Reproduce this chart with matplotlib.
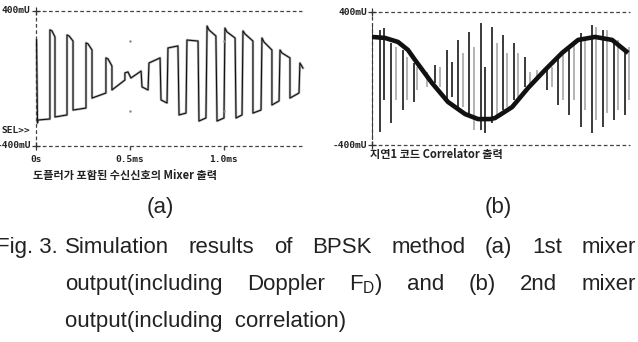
import matplotlib
matplotlib.use("Agg")
import matplotlib.pyplot as plt

# (a) 1st mixer output: breakpoints of the trace, time in ms, level in mV
mix_t = [0.003, 0.008, 0.011, 0.074, 0.074, 0.085, 0.101, 0.101, 0.165, 0.165,
         0.176, 0.197, 0.197, 0.266, 0.266, 0.277, 0.298, 0.298, 0.372, 0.372,
         0.383, 0.404, 0.404, 0.473, 0.473, 0.489, 0.505, 0.559, 0.564, 0.596,
         0.601, 0.660, 0.665, 0.697, 0.702, 0.755, 0.761, 0.798, 0.803, 0.862,
         0.867, 0.904, 0.910, 0.920, 0.957, 0.963, 1.000, 1.005, 1.016, 1.059,
         1.064, 1.096, 1.101, 1.112, 1.154, 1.154, 1.197, 1.202, 1.213, 1.255,
         1.255, 1.293, 1.298, 1.309, 1.351, 1.351, 1.399, 1.404, 1.420]
mix_v = [228, -264, -246, -240, 288, 282, 246, -228, -216, 258,
         252, 222, -187, -175, 211, 205, 169, -116, -86, 122,
         116, 74, -68, -9, 33, 39, 3, 44, -50, -68,
         92, 122, -127, -145, 181, 193, -216, -205, 228, 222,
         -252, -234, 311, 288, 252, -252, -234, 299, 276, 240,
         -234, -216, 282, 264, 222, -205, -187, 240, 216, 169,
         -157, -133, 169, 151, 122, -116, -86, 92, 62]

# (b) correlator output: slow sine component
cor_t = [0.0, 0.069, 0.138, 0.191, 0.229, 0.319, 0.404, 0.495, 0.564, 0.628,
         0.654, 0.745, 0.830, 0.920, 1.011, 1.096, 1.186, 1.277, 1.362]
cor_v = [250, 244, 220, 172, 111, -27, -141, -214, -244, -244,
         -238, -172, -57, 51, 154, 232, 250, 232, 154]

# (b) spikes: position, top, bottom (mV), shade (1 = dark, 0 = grey)
spk_t = [0.000, 0.043, 0.064, 0.099, 0.128, 0.163, 0.188, 0.223, 0.241, 0.291,
         0.335, 0.362, 0.397, 0.424, 0.459, 0.486, 0.518, 0.543, 0.578, 0.601,
         0.637, 0.663, 0.695, 0.720, 0.755, 0.778, 0.814, 0.840, 0.876, 0.933,
         0.956, 0.991, 1.015, 1.050, 1.074, 1.110, 1.133, 1.168, 1.191, 1.227,
         1.252, 1.287, 1.310, 1.346, 1.369]
spk_top = [322, 292, 302, 212, 191, 172, 131, 91, 71, 41,
           81, 71, 172, 101, 232, 152, 282, 191, 332, 71,
           312, 212, 262, 152, 212, 152, 131, 41, 51, 61,
           71, 121, 172, 191, 212, 272, 252, 322, 312, 292,
           292, 232, 232, 182, 191]
spk_bot = [-370, -320, -129, -270, -129, -190, -129, -140, -69, -49,
           -29, -49, -129, -109, -190, -170, -230, -310, -310, -330,
           -270, -230, -190, -170, -129, -109, -49, -49, 11, -69,
           -49, -160, -129, -220, -129, -290, -190, -330, -250, -290,
           -210, -250, -190, -220, -129]
spk_dark = [1, 1, 1, 1, 0, 1, 0, 1, 0, 0,
            1, 0, 1, 1, 1, 0, 1, 0, 1, 1,
            1, 0, 1, 0, 1, 0, 1, 0, 0, 1,
            0, 1, 0, 1, 0, 1, 0, 1, 0, 1,
            0, 1, 0, 1, 0]

x_ticks = [0.0, 0.5, 1.0]
x_labels = ["0s", "0.5ms", "1.0ms"]

W, H = 638, 342
fig = plt.figure(figsize=(W / 100, H / 100), dpi=100)
fig.patch.set_facecolor("white")

mono = dict(family="DejaVu Sans Mono", weight="bold", size=6.8, color="#222")
kor = dict(family=["Noto Sans CJK KR", "DejaVu Sans"], weight="bold", size=8.0, color="#222")
cap = dict(family=["Liberation Sans", "DejaVu Sans"], size=16, color="#222")
plt.rcParams["mathtext.fontset"] = "custom"
plt.rcParams["mathtext.rm"] = "Liberation Sans"


def px_axes(x0, y0, x1, y1):
    return fig.add_axes([x0 / W, 1 - y1 / H, (x1 - x0) / W, (y1 - y0) / H])


def frame(ax, xmax):
    dash = (0, (3, 2))
    for yv in (-400, 400):
        ax.plot([0, xmax], [yv, yv], ls=dash, lw=0.9, color="#444", clip_on=False)
    ax.plot([0, 0], [-400, 400], ls=dash, lw=0.9, color="#444", clip_on=False)
    ax.plot([0, 0], [-400, 400], ls="none", marker="+", ms=6, mew=0.9,
            color="#333", clip_on=False)
    ax.set_xlim(0, xmax)
    ax.set_ylim(-400, 400)
    ax.axis("off")


# ---- (a)
ax1 = px_axes(36, 11, 302, 146)
frame(ax1, 1.415)
ax1.plot(mix_t, mix_v, color="#666", lw=1.8, alpha=0.5, clip_on=False)
ax1.plot(mix_t, mix_v, color="#111", lw=0.8, clip_on=False)
ax1.plot(x_ticks[1:], [-400] * 2, ls="none", marker=3, ms=3, color="#444", clip_on=False)
ax1.plot([0.5, 0.5, 1.0, 1.0], [220, -190, 220, -190], ls="none", marker=".", ms=1.5,
         color="#888")
t_y = ax1.get_yaxis_transform()
ax1.text(-0.02, 400, "400mU", ha="right", va="center", transform=t_y, **mono)
ax1.text(-0.02, -400, "-400mU", ha="right", va="center", transform=t_y, **mono)
ax1.text(-0.02, -311, "SEL>>", ha="right", va="center", transform=t_y, **mono)
t_x = ax1.get_xaxis_transform()
for xv, lab in zip(x_ticks, x_labels):
    ax1.text(xv, -0.1, lab, ha="center", va="center", transform=t_x, **mono)
ax1.text(-0.016, -0.215, "도플러가 포함된 수신신호의 Mixer 출력", ha="left", va="center",
         transform=t_x, **kor)

# ---- (b)
ax2 = px_axes(372, 12, 630, 145)
frame(ax2, 1.372)
for t, a, b, d in zip(spk_t, spk_top, spk_bot, spk_dark):
    ax2.vlines(t, b, a, color="#3a3a3a" if d else "#a8a8a8", lw=1.4 if d else 1.2)
ax2.plot(cor_t, cor_v, color="#111", lw=3.3, solid_capstyle="butt")
t_y2 = ax2.get_yaxis_transform()
ax2.text(-0.02, 400, "400mU", ha="right", va="center", transform=t_y2, **mono)
ax2.text(-0.02, -400, "-400mU", ha="right", va="center", transform=t_y2, **mono)
ax2.text(-0.008, -0.075, "지연1 코드 Correlator 출력", ha="left", va="center",
         transform=ax2.transAxes, **kor)

# ---- captions (y given as baseline, in pixels from the top)
fig.text(160 / W, 1 - 213 / H, "(a)", ha="center", va="baseline", **cap)
fig.text(498 / W, 1 - 213 / H, "(b)", ha="center", va="baseline", **cap)


def justify(words, x0, x1, y):
    texts = [fig.text(0, 1 - y / H, w, ha="left", va="baseline", **cap) for w in words]
    fig.canvas.draw()
    r = fig.canvas.get_renderer()
    widths = [t.get_window_extent(r).width for t in texts]
    gap = (x1 - x0 - sum(widths)) / (len(words) - 1)
    x = x0
    for t, w in zip(texts, widths):
        t.set_x(x / W)
        x += w + gap


fig.text(-4 / W, 1 - 253 / H, "Fig. 3.", ha="left", va="baseline", **cap)
justify(["Simulation", "results", "of", "BPSK", "method", "(a)", "1st", "mixer"],
        65, 636, 253)
justify(["output(including", "Doppler", "F$_{\\rm D}$)", "and", "(b)", "2nd", "mixer"],
        65, 636, 290)
fig.text(65 / W, 1 - 327 / H, "output(including  correlation)", ha="left", va="baseline", **cap)

fig.savefig("out.png", dpi=100)
